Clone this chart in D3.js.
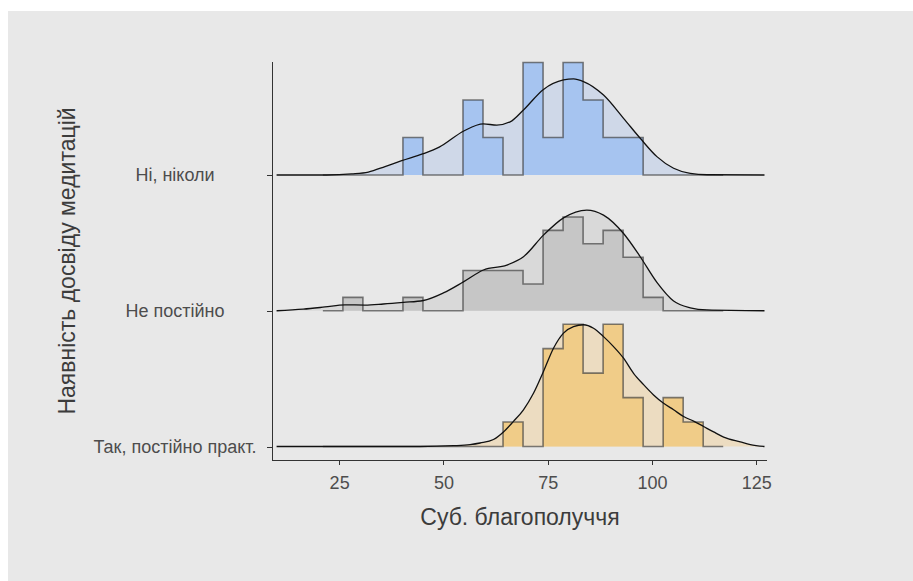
<!DOCTYPE html>
<html lang="uk">
<head>
<meta charset="UTF-8">
<title>ridges</title>
<script src="https://cdn.jsdelivr.net/npm/d3@7"></script>
<style>
    body { margin: 0; background: #ffffff; }
    .axis path, .axis line { fill: none; stroke: #333333; shape-rendering: crispEdges; }
    .axis text { font-family: "Liberation Sans", Arial, sans-serif; font-size: 18px; fill: #4d4d4d; }
    .title { font-family: "Liberation Sans", Arial, sans-serif; font-size: 23px; fill: #3c3c3c; }
</style>
</head>
<body>
<script>
// categories (top to bottom)
var groups = ["Ні, ніколи", "Не постійно", "Так, постійно практ."];
var xTicks = [25, 50, 75, 100, 125];

// histogram: 20 bins, counts per group
var binStart = 21.1, binWidth = 4.8;
var histNever = [0,0,0,0,1,0,0,2,1,0,3,1,3,2,1,1,0,0,0,0];
var histSome  = [0,1,0,0,1,0,0,3,3,3,2,6,7,5,6,4,1,0,0,0];
var histAlways = [0,0,0,0,0,0,0,0,0,1,0,4,5,3,5,2,0,2,1,0];

// density curves: [value, density]
var densNever = [[10,0],[22,0],[28,0.0004],[32,0.0011],[36,0.0031],[40,0.0053],[45,0.0078],[49,0.0103],
    [55,0.0164],[59.6,0.0189],[62.8,0.0185],[66,0.0197],[69.2,0.0241],[74,0.0317],[78.8,0.0352],
    [81.2,0.0356],[83.6,0.0346],[88.4,0.0296],[93.2,0.021],[97.2,0.0136],[101.2,0.0068],
    [105.2,0.0025],[109.2,0.0006],[113.2,0.0001],[127,0]];
var densSome = [[10,0],[16.4,0.0006],[21.6,0.0014],[26.4,0.0022],[31.2,0.0021],[35.6,0.0025],
    [40.4,0.0031],[45.2,0.0038],[50,0.0066],[54.8,0.0107],[59.6,0.0151],[65.2,0.0169],[69.2,0.02],
    [74,0.028],[78.8,0.0344],[84.4,0.0373],[88.4,0.0354],[93.2,0.0286],[97.2,0.02],[101.2,0.0105],
    [105.2,0.0036],[109.2,0.0011],[113.2,0.0003],[127,0]];
var densAlways = [[10,0],[44.4,0],[52.4,0.0003],[56.4,0.0007],[58.8,0.0013],[62,0.0026],[64.4,0.0054],
    [66.8,0.0093],[69.2,0.0136],[71.6,0.0197],[74,0.0278],[76.4,0.0364],[78.8,0.042],[81.2,0.0444],
    [83.6,0.0451],[86,0.0438],[88.4,0.0407],[90.8,0.037],[93.2,0.0327],[95.6,0.0271],[98,0.0229],
    [100.4,0.0191],[102.8,0.016],[105.2,0.0136],[107.6,0.0111],[110,0.0094],[112.4,0.0074],
    [114.8,0.0054],[117.2,0.0035],[121.2,0.0017],[123.6,0.0007],[127,0]];

var histFill = ["#a6c4f0", "#c6c6c6", "#f0cc88"];
var densFill = ["#cfd8e8", "#d9d9d9", "#ecdcc1"];

var width = 913, height = 581;
var svg = d3.select("body").append("svg")
    .attr("width", width)
    .attr("height", height);

svg.append("rect")
    .attr("x", 8).attr("y", 11)
    .attr("width", 905).attr("height", 570)
    .attr("fill", "#e8e8e8");

var x = d3.scaleLinear().domain([8.9, 127.6]).range([272, 767]);
var y = d3.scalePoint().domain(groups).range([175, 446.5]);
var h = d3.scaleLinear().domain([0, 0.05]).range([0, 135]);

var ridges = [
    {name: groups[0], hist: histNever, dens: densNever},
    {name: groups[1], hist: histSome, dens: densSome},
    {name: groups[2], hist: histAlways, dens: densAlways}
];

ridges.forEach(function(r, i) {
    var base = y(r.name);
    var n = d3.sum(r.hist);
    var g = svg.append("g");

    var area = d3.area()
        .x(function(d) { return x(d[0]); })
        .y0(base)
        .y1(function(d) { return base - h(d[1]); })
        .curve(d3.curveMonotoneX);
    var line = d3.line()
        .x(function(d) { return x(d[0]); })
        .y(function(d) { return base - h(d[1]); })
        .curve(d3.curveMonotoneX);

    // density fill
    g.append("path").datum(r.dens)
        .attr("d", area)
        .attr("fill", densFill[i]);

    // histogram outline as steps
    var pts = [[binStart, 0]];
    r.hist.forEach(function(c, k) {
        var dd = c / (n * binWidth);
        pts.push([binStart + k * binWidth, dd]);
        pts.push([binStart + (k + 1) * binWidth, dd]);
    });
    pts.push([binStart + r.hist.length * binWidth, 0]);
    var step = d3.line()
        .x(function(d) { return x(d[0]); })
        .y(function(d) { return base - h(d[1]); });

    g.append("path").datum(pts)
        .attr("d", step)
        .attr("fill", histFill[i])
        .attr("stroke", "#3a3a3a")
        .attr("stroke-opacity", 0.65)
        .attr("stroke-width", 1.6)
        .attr("stroke-linejoin", "miter");

    // density line
    g.append("path").datum(r.dens)
        .attr("d", line)
        .attr("fill", "none")
        .attr("stroke", "#111111")
        .attr("stroke-width", 1.3);
});

// axes
var xAxis = d3.axisBottom(x).tickValues(xTicks).tickSize(5);
var gx = svg.append("g")
    .attr("class", "axis")
    .attr("transform", "translate(0,460)")
    .call(xAxis);
gx.select(".domain").attr("d", "M272,0H767");
gx.selectAll(".tick text")
    .attr("y", 23)
    .attr("dy", "0.35em");

var yAxis = d3.axisLeft(y).tickSize(5);
var gy = svg.append("g")
    .attr("class", "axis")
    .attr("transform", "translate(272,0)")
    .call(yAxis);
gy.select(".domain").attr("d", "M0,62V460");
gy.selectAll(".tick text")
    .attr("x", -97)
    .attr("text-anchor", "middle");

// titles
svg.append("text")
    .attr("class", "title")
    .attr("x", 520).attr("y", 517)
    .attr("dy", "0.35em")
    .attr("text-anchor", "middle")
    .text("Суб. благополуччя");

svg.append("text")
    .attr("class", "title")
    .attr("transform", "translate(67,261) rotate(-90)")
    .attr("dy", "0.35em")
    .attr("text-anchor", "middle")
    .text("Наявність досвіду медитацій");
</script>
</body>
</html>
